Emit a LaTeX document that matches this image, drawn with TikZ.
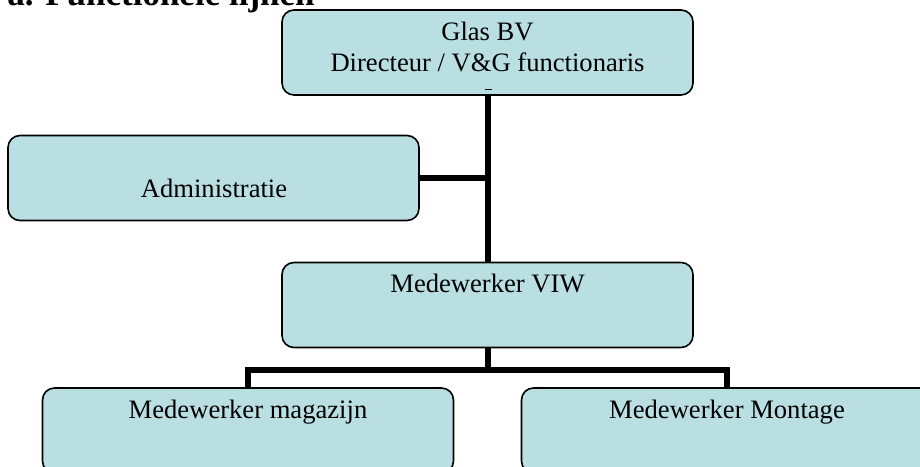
\documentclass[tikz,border=0pt]{standalone}
\usepackage{fontspec}
\setmainfont{Liberation Serif}
\definecolor{boxfill}{RGB}{185,223,227}
\begin{document}
\begin{tikzpicture}[x=0.5pt,y=-0.5pt,
  orgbox/.style={draw=black, line width=0.8pt, fill=boxfill, rounded corners=6pt,
    minimum width=205.5pt, minimum height=42.5pt, inner sep=0pt},
  lbl/.style={anchor=base, inner sep=0pt, font=\fontsize{13.3}{15.5}\selectfont},
  conn/.style={draw=black, line width=3pt, line join=miter}]
\useasboundingbox (0,0) rectangle (920,466);
\clip (0,0) rectangle (920,466);
% title (cut by the top edge, as in the reference)
\node[anchor=base west, inner sep=0pt, font=\fontsize{17.5}{20}\selectfont\bfseries] (title) at (7,5) {a. Functionele lijnen};
% boxes
\node[orgbox] (top)  at (487.5,52.5) {};
\node[orgbox] (adm)  at (213.5,178) {};
\node[orgbox] (viw)  at (487.5,305) {};
\node[orgbox] (mag)  at (248,430.5) {};
\node[orgbox] (mont) at (727,430.5) {};
% texts
\node[lbl] (t1) at (487.5,40) {Glas BV};
\node[lbl] (t2) at (487.5,71) {Directeur / V\&G functionaris};
\node[lbl] (t3) at (214,197) {Administratie};
\node[lbl] (t4) at (487.5,292) {Medewerker VIW};
\node[lbl] (t5) at (248,418) {Medewerker magazijn};
\node[lbl] (t6) at (727,418) {Medewerker Montage};
% small dash under the top text
\draw[line width=0.6pt] ([shift={(-3,-6)}]top.south) -- ++(7,0);
% connectors
\coordinate (bus) at (487.5,370);
\draw[conn] (top.south) -- (viw.north);
\draw[conn] (adm.east) -- (adm.east -| top.south);
\draw[conn] (viw.south) -- (bus);
\draw[conn] (mag.north) |- (bus) -| (mont.north);
\end{tikzpicture}
\end{document}
